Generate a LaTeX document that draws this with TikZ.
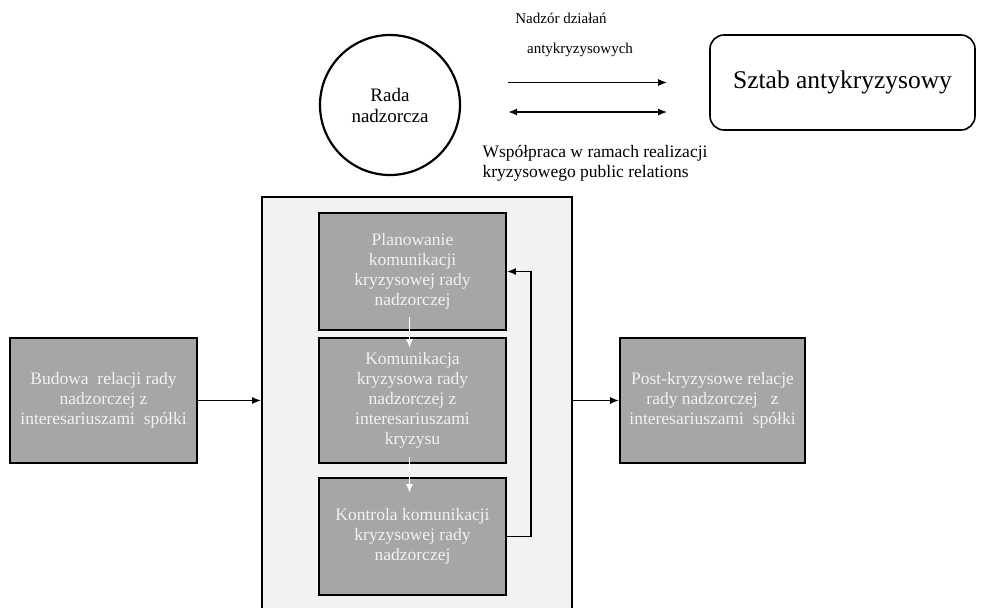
\documentclass[tikz,border=0pt]{standalone}
\usepackage{fontspec}
\setmainfont{Liberation Serif}
\usepackage{xcolor}
\usetikzlibrary{shapes,arrows.meta,positioning,calc}

\definecolor{boxgrey}{HTML}{A6A6A6}
\definecolor{framegrey}{HTML}{F2F2F2}

\begin{document}
\begin{tikzpicture}[x=1pt, y=-1pt,
        greybox/.style={rectangle, draw=black, line width=1.8pt, fill=boxgrey, text=framegrey, align=center, inner sep=2pt, minimum width=187pt, font=\fontsize{17.5}{20}\selectfont},
        frame/.style={rectangle, draw=black, line width=1.6pt, fill=framegrey, minimum width=310pt, minimum height=424pt},
        board/.style={circle, draw=black, line width=2.2pt, minimum size=140pt, align=center, font=\fontsize{19}{21}\selectfont},
        staffbox/.style={rectangle, draw=black, line width=1.6pt, rounded corners=14pt, minimum width=265pt, minimum height=95pt, font=\fontsize{25.5}{29}\selectfont},
        note/.style={align=left, font=\fontsize{17.5}{20}\selectfont},
        arrow/.style={->, line width=1.6pt, >={Latex[length=9pt,width=7pt]}},
        doublearrow/.style={<->, line width=1.6pt, >={Latex[length=9pt,width=7pt]}},
        whitearrow/.style={->, line width=1.6pt, >={Latex[length=9pt,width=7pt]}, draw=white}
    ]
    \useasboundingbox (0,0) rectangle (986,608);

    % Top: supervisory board and crisis staff
    \node[board] (rada) at (390, 105) {Rada\\nadzorcza};
    \node[staffbox] (sztab) at (842.5, 82.5) {Sztab antykryzysowy};

    \draw[arrow, shorten <=47pt, shorten >=42pt] (rada.east |- sztab.west) -- (sztab.west);
    \draw[doublearrow, shorten <=47pt, shorten >=42pt] ([yshift=-7pt]rada.east) -- ([yshift=-7pt]rada.east -| sztab.west);

    \node[font=\fontsize{15}{18}\selectfont] (nadzor1) at (561, 18) {Nadzór działań};
    \node[font=\fontsize{15}{18}\selectfont] (nadzor2) at (580, 50) {antykryzysowych};
    \node[note, anchor=west] (wspolpraca) at (479, 163) {Współpraca w ramach realizacji\\kryzysowego public relations};

    % Crisis communication frame
    \node[frame] (ramka) at (417, 409) {};
    \node[greybox, minimum height=117pt] (plan) at (412.5, 271.5) {Planowanie\\komunikacji\\kryzysowej rady\\nadzorczej};
    \node[greybox, minimum height=125pt] (komun) at (412.5, 400.5) {Komunikacja\\kryzysowa rady\\nadzorczej z\\interesariuszami\\kryzysu};
    \node[greybox, minimum height=117pt] (kontrola) at (412.5, 536.5) {Kontrola komunikacji\\kryzysowej rady\\nadzorczej};

    \draw[whitearrow] ([xshift=-3pt, yshift=14pt]plan.south) -- ([xshift=-3pt, yshift=-11pt]komun.north);
    \draw[whitearrow] ([xshift=-3pt, yshift=7pt]komun.south) -- ([xshift=-3pt, yshift=-16pt]kontrola.north);
    \draw[arrow] (kontrola.east) -- ++(24,0) |- (plan.east);

    % Before and after the crisis
    \node[greybox, minimum height=125pt] (budowa) at (103.5, 400.5) {Budowa~ relacji rady\\nadzorczej z\\interesariuszami~ spółki};
    \node[greybox, minimum width=185pt, minimum height=125pt] (post) at (712.5, 400.5) {Post-kryzysowe relacje\\rady nadzorczej~~ z\\interesariuszami~ spółki};

    \draw[arrow] (budowa.east) -- (ramka.west |- budowa.east);
    \draw[arrow] (ramka.east |- post.west) -- (post.west);

\end{tikzpicture}
\end{document}
